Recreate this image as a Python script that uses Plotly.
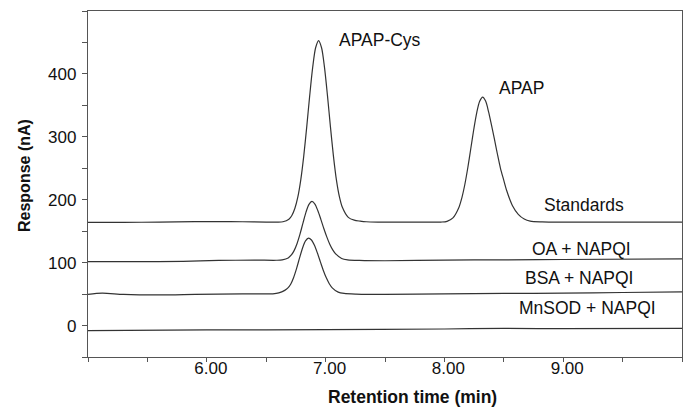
import plotly.graph_objects as go

# Retention time (min) / response (nA)
std_t = [5.00, 5.30, 5.60, 5.90, 6.10, 6.30, 6.50, 6.59, 6.641, 6.691, 6.716, 6.741, 6.766, 6.791,
         6.816, 6.841, 6.866, 6.891, 6.916, 6.941, 6.966, 6.991, 7.016, 7.041, 7.066, 7.091,
         7.116, 7.141, 7.191, 7.241, 7.291, 7.341, 7.45, 7.70, 7.90, 7.972, 8.022, 8.072,
         8.122, 8.147, 8.172, 8.197, 8.222, 8.247, 8.272, 8.297, 8.322, 8.347, 8.372, 8.397,
         8.422, 8.447, 8.472, 8.497, 8.522, 8.572, 8.622, 8.672, 8.722, 8.822, 9.00, 9.40,
         10.00]
std_y = [164, 164, 164.5, 165.3, 165.3, 165, 164.5, 164.5, 165, 169, 175, 186, 204, 231.6,
         269.4, 315.5, 365, 410, 441.6, 453, 441.6, 410, 365, 315.5, 269.4, 231.6,
         205, 188, 172, 167.5, 166, 165, 164.5, 164.3, 164.3, 164.5, 165.7, 171.2,
         187.7, 203.1, 224.2, 250.8, 281, 311.6, 338.2, 356.4, 363, 356.8, 339.6, 318,
         295.6, 271.9, 250, 232.7, 215.9, 190.9, 176.8, 169.3, 166, 164.7, 164.3, 164.3,
         164.5]

oa_t = [5.00, 5.40, 5.80, 6.10, 6.40, 6.585, 6.635, 6.685, 6.71, 6.735, 6.76, 6.785, 6.81,
        6.835, 6.86, 6.885, 6.91, 6.935, 6.96, 6.985, 7.01, 7.035, 7.06, 7.085, 7.135,
        7.185, 7.285, 7.50, 8.00, 8.50, 9.00, 10.00]
oa_y = [101.5, 101.5, 102, 103.5, 104, 103.8, 104.4, 107.4, 111.8, 119.1, 130.5, 145.7, 163.3,
        180.3, 192.7, 197.3, 193.1, 182.4, 168.8, 154.2, 140.9, 129.2, 120.3, 113.9, 106.6,
        104.5, 103.5, 103, 104, 104.5, 105, 106]

bsa_t = [5.00, 5.12, 5.30, 5.60, 5.90, 6.30, 6.556, 6.606, 6.656, 6.681, 6.706, 6.731, 6.756,
         6.781, 6.806, 6.831, 6.856, 6.881, 6.906, 6.931, 6.956, 6.981, 7.006, 7.031, 7.056,
         7.106, 7.156, 7.256, 7.50, 8.00, 8.50, 9.00, 9.50, 10.00]
bsa_y = [49.5, 51.5, 49.5, 48.7, 49.5, 50.5, 50.5, 51.9, 55.9, 59.4, 65.6, 76.5, 90.9,
         107.5, 123.3, 134.7, 139, 136, 127.5, 115.2, 101.3, 87.6, 75.8, 66.5, 60,
         53.1, 51, 50, 49.5, 50.5, 51, 51.5, 52.5, 53.5]

mn_t = [5.00, 6.00, 7.00, 8.00, 8.50, 9.00, 10.00]
mn_y = [-8, -7, -6.5, -5.5, -4.5, -5, -4.5]

x_ticks = [6, 7, 8, 9]
x_tick_text = ["6.00", "7.00", "8.00", "9.00"]
y_ticks = [0, 100, 200, 300, 400]

labels = ["APAP-Cys", "APAP", "Standards", "OA + NAPQI", "BSA + NAPQI", "MnSOD + NAPQI"]
label_x = [7.462, 8.647, 9.179, 9.153, 9.136, 9.203]
label_y = [454, 378, 192, 122, 76, 28.6]

FONT = "Arial, Liberation Sans, sans-serif"
line_style = dict(color="#333333", width=1.2, shape="spline", smoothing=0.8)

fig = go.Figure()
for t, y in [(std_t, std_y), (oa_t, oa_y), (bsa_t, bsa_y), (mn_t, mn_y)]:
    fig.add_trace(go.Scatter(x=t, y=y, mode="lines", line=line_style, hoverinfo="skip"))

for txt, lx, ly in zip(labels, label_x, label_y):
    fig.add_annotation(x=lx, y=ly, text=txt, showarrow=False, xanchor="center", yanchor="middle",
                       font=dict(family=FONT, size=17.5, color="#111111"))

fig.add_annotation(xref="paper", yref="paper", x=(412 - 88) / 594, y=-(397 - 357) / 346,
                   text="<b>Retention time (min)</b>", showarrow=False, xanchor="center",
                   yanchor="middle", font=dict(family=FONT, size=17.5, color="#111111"))
fig.add_annotation(xref="paper", yref="paper", x=-(88 - 24) / 594, y=(357 - 176) / 346,
                   text="<b>Response (nA)</b>", textangle=-90, showarrow=False, xanchor="center",
                   yanchor="middle", font=dict(family=FONT, size=16, color="#111111"))

fig.update_layout(
    width=685, height=408,
    margin=dict(l=88, r=3, t=11, b=51),
    paper_bgcolor="white", plot_bgcolor="white",
    showlegend=False,
    font=dict(family=FONT, size=17, color="#111111"),
)
fig.update_xaxes(
    range=[5, 10], tickvals=x_ticks, ticktext=x_tick_text,
    showgrid=False, zeroline=False,
    showline=True, linecolor="#555555", linewidth=1.3, mirror=True,
    ticks="", ticklabelstandoff=-5, ticklabelshift=4,
    minor=dict(dtick=0.5, tick0=5, ticks="outside", ticklen=4, tickcolor="#555555", showgrid=False),
    tickfont=dict(size=17),
)
fig.update_yaxes(
    range=[-50, 500], tickvals=y_ticks,
    showgrid=False, zeroline=False,
    showline=True, linecolor="#555555", linewidth=1.3, mirror=True,
    ticks="outside", ticklen=5, tickcolor="#555555", ticklabelstandoff=2,
    minor=dict(dtick=50, tick0=0, ticks="outside", ticklen=5, tickcolor="#555555", showgrid=False),
    tickfont=dict(size=17),
)

fig.write_html("out.html", config={"displayModeBar": False},
               post_script="document.body.style.margin='0px';")
